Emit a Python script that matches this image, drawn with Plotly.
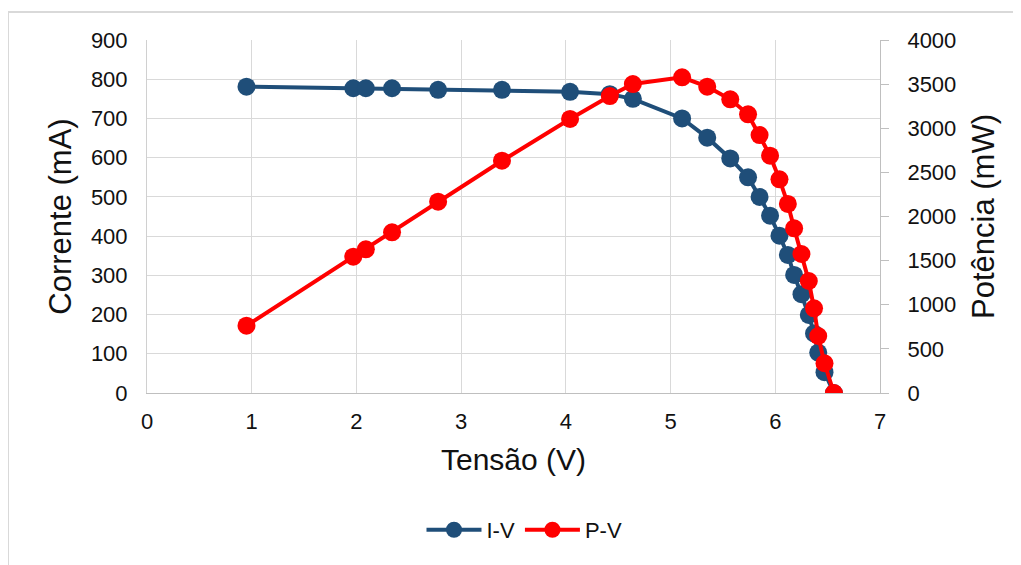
import plotly.graph_objects as go

# Curva I-V e P-V do painel
tensao = [0.95, 1.97, 2.09, 2.34, 2.78, 3.39, 4.04, 4.42, 4.64, 5.11, 5.35, 5.57,
          5.74, 5.85, 5.95, 6.04, 6.12, 6.18, 6.25, 6.32, 6.37, 6.41, 6.47, 6.56]
corrente = [781, 777, 777, 777, 773, 773, 768, 762, 750, 700, 651, 598,
            550, 500, 452, 401, 352, 301, 252, 199, 152, 103, 53, 0]
potencia = [763, 1545, 1628, 1821, 2168, 2632, 3105, 3365, 3501, 3577, 3471, 3328,
            3158, 2923, 2689, 2421, 2142, 1866, 1575, 1269, 960, 646, 337, 0]

x_ticks = list(range(0, 8))
y_ticks = list(range(0, 1000, 100))
y2_ticks = list(range(0, 4500, 500))

FONT = 'Liberation Sans, Arial, sans-serif'
GRID = '#D9D9D9'
BLUE = '#1F4E79'
RED = '#FF0000'
TXT = '#111111'

fig = go.Figure()

fig.add_trace(go.Scatter(x = tensao, y = corrente,
                         mode = 'lines+markers',
                         name = 'I-V',
                         line = dict(color = BLUE, width = 4),
                         marker = dict(color = BLUE, size = 18)))

fig.add_trace(go.Scatter(x = tensao, y = potencia,
                         mode = 'lines+markers',
                         name = 'P-V',
                         yaxis = 'y2',
                         line = dict(color = RED, width = 4),
                         marker = dict(color = RED, size = 18)))

# the page body has an 8px margin, so the figure is made 8px smaller
fig.update_layout(
    width = 1013,
    height = 557,
    autosize = False,
    paper_bgcolor = 'white',
    plot_bgcolor = 'white',
    margin = dict(l = 139, r = 141, t = 32, b = 172),
    font = dict(family = FONT, size = 22, color = TXT),
    xaxis = dict(
        range = [0, 7],
        tickvals = x_ticks,
        showgrid = True, gridcolor = GRID, gridwidth = 1,
        showline = True, linecolor = '#BFBFBF', linewidth = 1,
        zeroline = False,
        ticks = '', ticklabelstandoff = 9,
        tickfont = dict(family = FONT, size = 22, color = TXT),
        title = dict(text = 'Tensão (V)', standoff = 15,
                     font = dict(family = FONT, size = 30, color = TXT))),
    yaxis = dict(
        range = [0, 900],
        tickvals = y_ticks,
        showgrid = True, gridcolor = GRID, gridwidth = 1,
        showline = True, linecolor = '#D0D0D0', linewidth = 1,
        zeroline = False,
        ticks = '', ticklabelstandoff = 14,
        tickfont = dict(family = FONT, size = 22, color = TXT),
        title = dict(text = 'Corrente (mA)', standoff = 10,
                     font = dict(family = FONT, size = 31, color = TXT))),
    yaxis2 = dict(
        range = [0, 4000],
        tickvals = y2_ticks,
        overlaying = 'y', side = 'right',
        showgrid = False, zeroline = False,
        showline = True, linecolor = '#BFBFBF', linewidth = 1,
        ticks = 'outside', ticklen = 8, tickcolor = '#BFBFBF',
        ticklabelstandoff = 14,
        tickfont = dict(family = FONT, size = 22, color = TXT),
        title = dict(text = 'Potência (mW)', standoff = 16,
                     font = dict(family = FONT, size = 31, color = TXT))),
    legend = dict(
        orientation = 'h',
        x = 0.515, xanchor = 'center',
        y = -0.388, yanchor = 'middle',
        font = dict(family = FONT, size = 22, color = TXT),
        itemwidth = 55),
    showlegend = True,
    shapes = [dict(type = 'rect', xref = 'paper', yref = 'paper',
                   x0 = -0.1896, x1 = 1.25, y0 = -0.55, y1 = 1.0793,
                   line = dict(color = GRID, width = 2), layer = 'below')])

fig.write_html('out.html')
